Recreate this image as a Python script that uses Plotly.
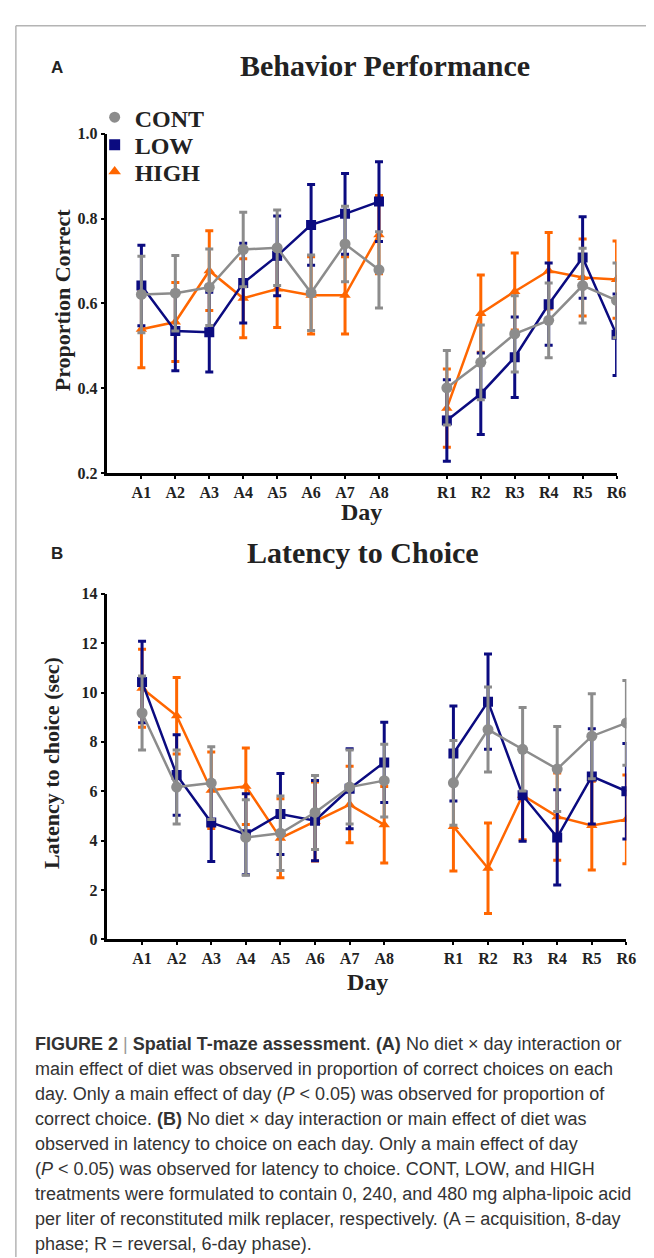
import plotly.graph_objects as go

W, H = 654, 1258

# ---------------- data ----------------
acq_days = ["A1", "A2", "A3", "A4", "A5", "A6", "A7", "A8"]
rev_days = ["R1", "R2", "R3", "R4", "R5", "R6"]
groups = ["CONT", "LOW", "HIGH"]

# Panel A: proportion correct (mean, SE)
propA_cont = [0.621, 0.624, 0.638, 0.727, 0.731, 0.625, 0.740, 0.679]
propA_cont_se = [0.090, 0.089, 0.090, 0.088, 0.089, 0.089, 0.089, 0.090]
propR_cont = [0.401, 0.461, 0.528, 0.560, 0.642, 0.607]
propR_cont_se = [0.088, 0.088, 0.090, 0.088, 0.088, 0.088]
propA_low = [0.642, 0.535, 0.532, 0.648, 0.712, 0.785, 0.811, 0.840]
propA_low_se = [0.095, 0.094, 0.094, 0.094, 0.094, 0.095, 0.095, 0.094]
propR_low = [0.324, 0.387, 0.473, 0.598, 0.708, 0.526]
propR_low_se = [0.096, 0.096, 0.095, 0.097, 0.096, 0.096]
propA_high = [0.539, 0.556, 0.677, 0.612, 0.634, 0.619, 0.619, 0.762]
propA_high_se = [0.091, 0.093, 0.094, 0.093, 0.091, 0.091, 0.091, 0.092]
propR_high = [0.353, 0.576, 0.628, 0.677, 0.661, 0.656]
propR_high_se = [0.092, 0.091, 0.091, 0.090, 0.091, 0.091]

# Panel B: latency to choice (sec) (mean, SE)
latA_cont = [9.17, 6.17, 6.33, 4.13, 4.30, 5.14, 6.17, 6.43]
latA_cont_se = [1.50, 1.50, 1.47, 1.53, 1.51, 1.50, 1.50, 1.47]
latR_cont = [6.34, 8.50, 7.70, 6.90, 8.23, 8.77]
latR_cont_se = [1.72, 1.72, 1.69, 1.72, 1.72, 1.72]
latA_low = [10.43, 6.66, 4.73, 4.26, 5.08, 4.81, 6.10, 7.17]
latA_low_se = [1.65, 1.63, 1.58, 1.64, 1.64, 1.63, 1.62, 1.63]
latR_low = [7.53, 9.63, 5.84, 4.13, 6.60, 6.00]
latR_low_se = [1.92, 1.93, 1.87, 1.93, 1.93, 1.93]
latA_high = [10.17, 9.06, 6.04, 6.20, 4.10, 4.77, 5.46, 4.64]
latA_high_se = [1.58, 1.55, 1.55, 1.55, 1.60, 1.60, 1.55, 1.55]
latR_high = [4.57, 2.88, 5.84, 4.97, 4.61, 4.86]
latR_high_se = [1.80, 1.83, 1.80, 1.77, 1.80, 1.80]

caption_lines = [
    "<b>FIGURE 2</b> <span style='color:#999'>|</span> <b>Spatial T-maze assessment</b>. <b>(A)</b> No diet × day interaction or",
    "main effect of diet was observed in proportion of correct choices on each",
    "day. Only a main effect of day (<i>P</i> &lt; 0.05) was observed for proportion of",
    "correct choice. <b>(B)</b> No diet × day interaction or main effect of diet was",
    "observed in latency to choice on each day. Only a main effect of day",
    "(<i>P</i> &lt; 0.05) was observed for latency to choice. CONT, LOW, and HIGH",
    "treatments were formulated to contain 0, 240, and 480 mg alpha-lipoic acid",
    "per liter of reconstituted milk replacer, respectively. (A = acquisition, 8-day",
    "phase; R = reversal, 6-day phase).",
]

# ---------------- styling ----------------
colors = {"CONT": "#8c8c8c", "LOW": "#0b0b80", "HIGH": "#ff6600"}
symbols = {"CONT": "circle", "LOW": "square", "HIGH": "triangle-up"}
msize = {"CONT": 11, "LOW": 10, "HIGH": 10}
legend_ids = {"CONT": "legend", "LOW": "legend2", "HIGH": "legend3"}
legend_y = {"CONT": 103, "LOW": 131, "HIGH": 158}
SERIF = "Liberation Serif"
SANS = "Liberation Sans"


def px(x):
    return x / W


def py(y):
    return 1 - y / H


acq_pos = [i + 1 for i in range(len(acq_days))]
rev_pos = [len(acq_days) + 2 + i for i in range(len(rev_days))]
tick_pos = acq_pos + rev_pos
tick_txt = acq_days + rev_days

fig = go.Figure()

panelA = {
    "CONT": (propA_cont, propA_cont_se, propR_cont, propR_cont_se),
    "LOW": (propA_low, propA_low_se, propR_low, propR_low_se),
    "HIGH": (propA_high, propA_high_se, propR_high, propR_high_se),
}
panelB = {
    "CONT": (latA_cont, latA_cont_se, latR_cont, latR_cont_se),
    "LOW": (latA_low, latA_low_se, latR_low, latR_low_se),
    "HIGH": (latA_high, latA_high_se, latR_high, latR_high_se),
}

draw_order = ["HIGH", "LOW", "CONT"]
for panel, (xa, ya) in ((panelA, ("x", "y")), (panelB, ("x2", "y2"))):
    for g in draw_order:
        ma, sa, mr, sr = panel[g]
        for xs, ys, es in ((acq_pos, ma, sa), (rev_pos, mr, sr)):
            fig.add_trace(go.Scatter(
                x=xs, y=ys, xaxis=xa, yaxis=ya, mode="lines+markers",
                line=dict(color=colors[g], width=2.5),
                marker=dict(symbol=symbols[g], size=msize[g], color=colors[g]),
                error_y=dict(type="data", array=es, visible=True,
                             color=colors[g], thickness=3, width=4),
                showlegend=False, hoverinfo="skip",
            ))

# legend entries (marker only), one legend box per group for exact spacing
for g in groups:
    fig.add_trace(go.Scatter(
        x=[None], y=[None], xaxis="x", yaxis="y", mode="markers", name=g,
        marker=dict(symbol=symbols[g], size=11, color=colors[g]),
        showlegend=True, legend=legend_ids[g],
    ))

tickfont = dict(family=SERIF, size=16, color="#222", weight="bold")
common_x = dict(range=[0, 15], tickvals=tick_pos, ticktext=tick_txt,
                showline=True, linecolor="black", linewidth=2.5,
                ticks="outside", ticklen=3, tickwidth=2, tickcolor="black",
                showgrid=False, zeroline=False, tickfont=tickfont, fixedrange=True)
common_y = dict(showline=True, linecolor="black", linewidth=2.5,
                ticks="outside", ticklen=4, tickwidth=2, tickcolor="black",
                showgrid=False, zeroline=False, tickfont=tickfont, fixedrange=True)

legend_common = dict(xanchor="left", yanchor="middle", bgcolor="rgba(0,0,0,0)",
                     borderwidth=0, tracegroupgap=0, itemwidth=30,
                     font=dict(family=SERIF, size=24, color="#222", weight="bold"))

fig.update_layout(
    width=W, height=H, autosize=False,
    margin=dict(l=0, r=0, t=0, b=0),
    paper_bgcolor="white", plot_bgcolor="white",
    xaxis=dict(domain=[px(101), px(618)], anchor="y", **common_x),
    yaxis=dict(domain=[py(463.3), py(119.3)], anchor="x", range=[0.2, 1.0],
               tickvals=[0.2, 0.4, 0.6, 0.8, 1.0],
               ticktext=["0.2", "0.4", "0.6", "0.8", "1.0"], **common_y),
    xaxis2=dict(domain=[px(101), px(628)], anchor="y2", **common_x),
    yaxis2=dict(domain=[py(936), py(585.7)], anchor="x2", range=[0, 14],
                tickvals=[0, 2, 4, 6, 8, 10, 12, 14], **common_y),
    legend=dict(x=px(88), y=py(legend_y["CONT"]), **legend_common),
    legend2=dict(x=px(88), y=py(legend_y["LOW"]), **legend_common),
    legend3=dict(x=px(88), y=py(legend_y["HIGH"]), **legend_common),
    showlegend=True,
)

ann = []
# panel letters and titles
ann.append(dict(text="<b>A</b>", x=px(50), y=py(52), font=dict(family=SANS, size=17, color="#222")))
ann.append(dict(text="<b>Behavior Performance</b>", x=px(383), y=py(50), font=dict(family=SERIF, size=30, color="#222")))
ann.append(dict(text="<b>B</b>", x=px(50), y=py(545), font=dict(family=SANS, size=17, color="#222")))
ann.append(dict(text="<b>Latency to Choice</b>", x=px(361), y=py(544), font=dict(family=SERIF, size=30, color="#222")))
# axis titles
ann.append(dict(text="<b>Proportion Correct</b>", x=px(55), y=py(288), textangle=-90,
                font=dict(family=SERIF, size=22, color="#222")))
ann.append(dict(text="<b>Latency to choice (sec)</b>", x=px(44), y=py(757), textangle=-90,
                font=dict(family=SERIF, size=22, color="#222")))
ann.append(dict(text="<b>Day</b>", x=px(359), y=py(503), font=dict(family=SERIF, size=24, color="#222")))
ann.append(dict(text="<b>Day</b>", x=px(365), y=py(979), font=dict(family=SERIF, size=24, color="#222")))
for a in ann:
    a.update(xref="paper", yref="paper", showarrow=False, xanchor="center", yanchor="middle")

# caption
for i, line in enumerate(caption_lines):
    ann.append(dict(text=line, xref="paper", yref="paper", showarrow=False,
                    x=px(25), y=py(1042 + i * 25.4), xanchor="left", yanchor="middle",
                    font=dict(family=SANS, size=18, color="#333")))

fig.update_layout(annotations=ann)

# page border lines
fig.add_shape(type="line", xref="paper", yref="paper", x0=px(8), x1=1, y0=py(10), y1=py(10),
              line=dict(color="#b4b4b4", width=1.5))
fig.add_shape(type="line", xref="paper", yref="paper", x0=px(8), x1=px(8), y0=py(10), y1=0,
              line=dict(color="#b4b4b4", width=1.5))

fig.write_html("out.html")
